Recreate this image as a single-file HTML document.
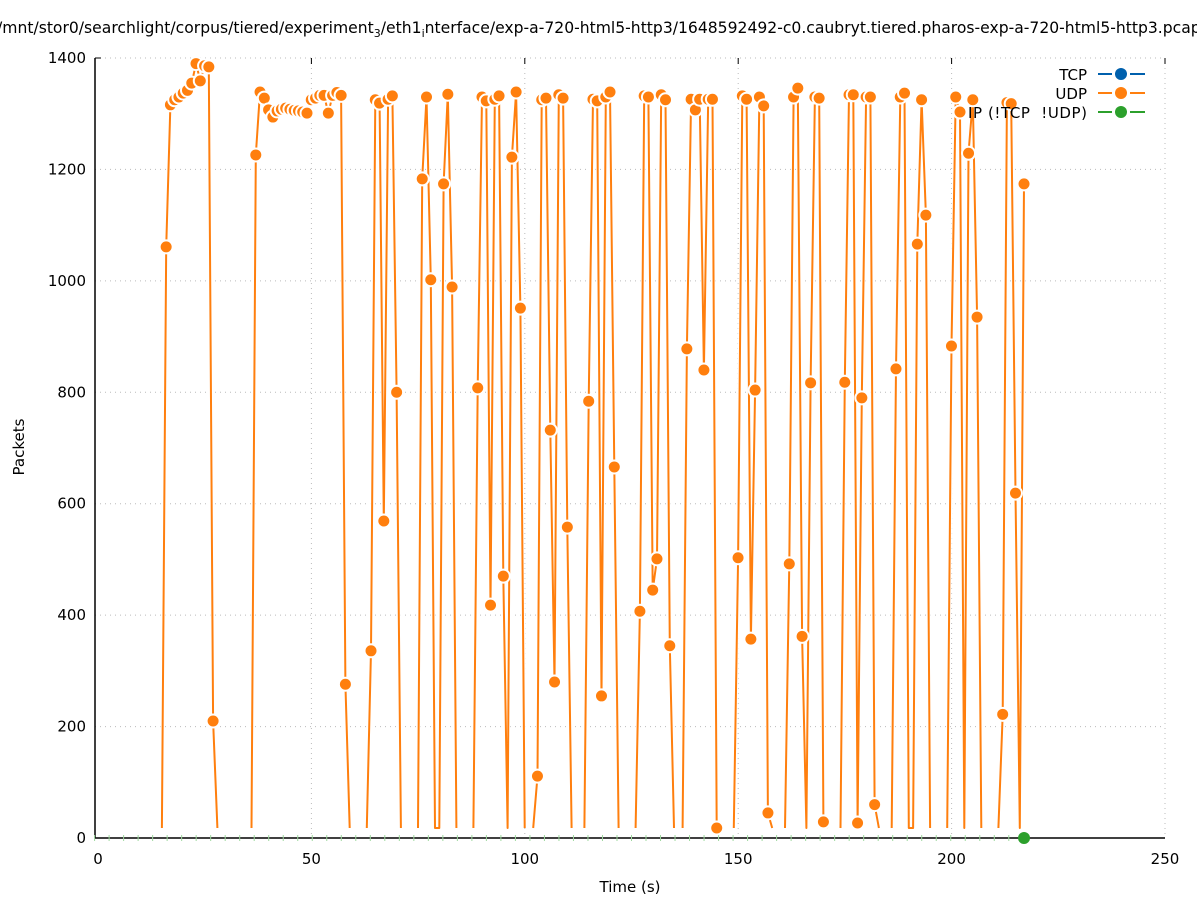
<!DOCTYPE html>
<html><head><meta charset="utf-8"><style>
body{margin:0;background:#fff;width:1197px;height:900px;overflow:hidden}
svg{display:block;font-family:"DejaVu Sans","Liberation Sans",sans-serif}
</style></head><body>
<svg id="chart" width="1197" height="900" viewBox="0 0 1197 900">
<text x="-3" y="33" font-size="15.6" text-anchor="start">/mnt/stor0/searchlight/corpus/tiered/experiment<tspan font-size="11" dy="4">3</tspan><tspan dy="-4">/eth1</tspan><tspan font-size="11" dy="4">i</tspan><tspan dy="-4">nterface/exp-a-720-html5-http3/1648592492-c0.caubryt.tiered.pharos-exp-a-720-html5-http3.pcap</tspan></text>
<g id="grid"></g>
<g id="axes"></g>
<g id="ipseries"></g>
<g id="udp"></g>
<g id="legend">
<text x="1087" y="80" font-size="15" text-anchor="end">TCP</text>
<line x1="1098" y1="74" x2="1112" y2="74" stroke="#0060ad" stroke-width="2"/>
<line x1="1130" y1="74" x2="1145" y2="74" stroke="#0060ad" stroke-width="2"/>
<circle cx="1121" cy="74" r="6" fill="#0060ad"/>
<text x="1087" y="99" font-size="15" text-anchor="end">UDP</text>
<line x1="1098" y1="93" x2="1112" y2="93" stroke="#ff7f0e" stroke-width="2"/>
<line x1="1130" y1="93" x2="1145" y2="93" stroke="#ff7f0e" stroke-width="2"/>
<circle cx="1121" cy="93" r="6" fill="#ff7f0e"/>
<text x="968" y="118" font-size="15" textLength="119" xml:space="preserve">IP (!TCP  !UDP)</text>
<line x1="1098" y1="112" x2="1112" y2="112" stroke="#2ca02c" stroke-width="2"/>
<line x1="1130" y1="112" x2="1145" y2="112" stroke="#2ca02c" stroke-width="2"/>
<circle cx="1121" cy="112" r="6" fill="#2ca02c"/>
</g>
<text x="630" y="892" font-size="15" text-anchor="middle">Time (s)</text>
<text x="24" y="447" font-size="15" text-anchor="middle" transform="rotate(-90 24 447)">Packets</text>
</svg>
<script>
const xTicks=[0,50,100,150,200,250];
const yTicks=[0,200,400,600,800,1000,1200,1400];
const udpTimes=[14.5,15.5,16.5,17.5,18.5,19.5,20.5,21.5,22.5,23.5,24.5,25.5,26.5,27.5,
35.5,36.5,37.5,38.5,39.5,40.5,41.5,42.5,43.5,44.5,45.5,46.5,47.5,48.5,49.5,50.5,51.5,52.5,53.5,54.5,55.5,56.5,57.5,58.5,
62.5,63.5,64.5,65.5,66.5,67.5,68.5,69.5,70.5,
74.5,75.5,76.5,77.5,78.5,79.5,80.5,81.5,82.5,83.5,
87.5,88.5,89.5,90.5,91.5,92.5,93.5,94.5,95.5,96.5,97.5,98.5,99.5,
101.5,102.5,103.5,104.5,105.5,106.5,107.5,108.5,109.5,110.5,
113.5,114.5,115.5,116.5,117.5,118.5,119.5,120.5,121.5,
125.5,126.5,127.5,128.5,129.5,130.5,131.5,132.5,133.5,134.5,
136.5,137.5,138.5,139.5,140.5,141.5,142.5,143.5,144.5,
148.5,149.5,150.5,151.5,152.5,153.5,154.5,155.5,156.5,157.5,
160.5,161.5,162.5,163.5,164.5,165.5,166.5,167.5,168.5,169.5,170.5,
173.5,174.5,175.5,176.5,177.5,178.5,179.5,180.5,181.5,182.5,
185.5,186.5,187.5,188.5,189.5,190.5,191.5,192.5,193.5,194.5,
198.5,199.5,200.5,201.5,202.5,203.5,204.5,205.5,206.5,
210.5,211.5,212.5,213.5,214.5,215.5,216.5];
const udpValues=[0,1061,1316,1325,1330,1337,1342,1355,1390,1359,1386,1384,210,0,
0,1226,1339,1328,1307,1294,1305,1308,1310,1308,1306,1305,1303,1301,1325,1328,1333,1333,1301,1333,1338,1333,276,0,
0,336,1325,1319,569,1326,1332,800,0,
0,1183,1330,1002,0,0,1174,1335,989,0,
0,808,1330,1323,418,1326,1332,470,0,1222,1339,951,0,
0,111,1325,1328,732,280,1334,1328,558,0,
0,784,1326,1323,255,1330,1339,666,0,
0,407,1332,1330,445,501,1334,1325,345,0,
0,878,1326,1307,1326,840,1326,1326,18,
0,503,1332,1326,357,804,1330,1314,45,0,
0,492,1330,1346,362,0,817,1330,1328,29,0,
0,818,1334,1334,27,790,1330,1330,60,0,
0,842,1330,1337,0,0,1066,1325,1118,0,
0,883,1330,1303,0,1229,1325,935,0,
0,222,1320,1318,619,0,1174];
const ipTimes=[216.5];
const ipValues=[0];
const NS="http://www.w3.org/2000/svg";
const X0=98,X1=1165,Y0=838,Y1=58;
const xs=t=>X0+(t-0)/(250-0)*(X1-X0);
const xd=t=>xs(t)+2;
const ys=v=>Y0-v/1400*(Y0-Y1);
function mk(tag,attrs,parent){const e=document.createElementNS(NS,tag);for(const k in attrs)e.setAttribute(k,attrs[k]);parent.appendChild(e);return e;}
const grid=document.getElementById('grid'),axes=document.getElementById('axes');
yTicks.forEach(v=>{
  if(v>0){const g=mk('line',{x1:95,x2:X1,y1:ys(v),y2:ys(v),stroke:'#bbb','stroke-width':1,'stroke-dasharray':'1,4'},grid);
  
  }
  const t=mk('text',{x:86,y:ys(v)+5,'font-size':15,'text-anchor':'end'},axes);
  t.textContent=v;
  
  
});
xTicks.forEach(v=>{
  if(v>0){const g=mk('line',{x1:xs(v),x2:xs(v),y1:Y1,y2:Y0,stroke:'#bbb','stroke-width':1,'stroke-dasharray':'1,4'},grid);
  
  
  mk('line',{x1:xs(v),x2:xs(v),y1:Y1,y2:Y1+6,stroke:'#000','stroke-width':1},axes);}
  const t=mk('text',{x:xs(v),y:864,'font-size':15,'text-anchor':'middle'},axes);
  t.textContent=v;
  
  
});
mk('line',{x1:95,x2:95,y1:Y1,y2:Y0,stroke:'#000','stroke-width':1.5},axes);
mk('line',{x1:95,x2:X1,y1:Y0,y2:Y0,stroke:'#000','stroke-width':1.5},axes);
mk('line',{x1:95,x2:101,y1:Y1,y2:Y1,stroke:'#000','stroke-width':1},axes);
mk('line',{x1:X1,x2:X1,y1:Y1,y2:Y1+6,stroke:'#000','stroke-width':1},axes);
const ipg=document.getElementById('ipseries');
for(let t=-0.8;t<=216.5;t+=3.4){mk('line',{x1:xs(t),x2:xs(t),y1:Y0-3,y2:Y0+3,stroke:'#9fd89f','stroke-width':1},ipg);}
const udp=document.getElementById('udp');
const pts=udpTimes.map((t,i)=>[xd(t),udpValues[i]===0?Y0-10:ys(udpValues[i])]);
let d='';
for(let i=0;i<pts.length;i++){
  const gap=i>0&&udpTimes[i]-udpTimes[i-1]>1.5;
  d+=(i===0||gap?'M':'L')+pts[i][0].toFixed(1)+' '+pts[i][1].toFixed(1);
}
mk('path',{d:d,fill:'none',stroke:'#fff','stroke-width':4,'stroke-linejoin':'round'},udp);
const ln=mk('path',{d:d,fill:'none',stroke:'#ff7f0e','stroke-width':2,'stroke-linejoin':'round'},udp);


udpTimes.forEach((t,i)=>{
  if(udpValues[i]===0)return;
  const c=mk('circle',{cx:xd(t),cy:ys(udpValues[i]),r:6.5,fill:'#ff7f0e',stroke:'#fff','stroke-width':2},udp);
  
  
});
ipTimes.forEach((t,i)=>{
  const c=mk('circle',{cx:xd(t),cy:ys(ipValues[i]),r:6,fill:'#2ca02c'},ipg);
  
  
});
</script>
</body></html>
